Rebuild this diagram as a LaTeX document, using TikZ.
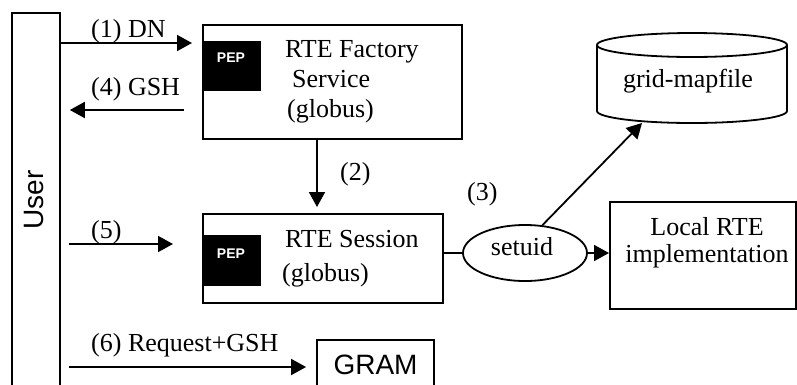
\documentclass[tikz,border=0pt]{standalone}
\usepackage{fontspec}
\setmainfont{Liberation Serif}
\newfontfamily\arialfont{Liberation Sans}
\usetikzlibrary{arrows.meta,shapes.geometric}

\begin{document}
\begin{tikzpicture}[x=1pt,y=-1pt,
  box/.style={draw,line width=1.8pt,rectangle,inner sep=0pt},
  pepbox/.style={fill=black,draw=none,inner sep=0pt,minimum width=59pt},
  peplabel/.style={text=white,font=\arialfont\bfseries\fontsize{14}{16}\selectfont,inner sep=0pt},
  txt/.style={font=\fontsize{26}{30}\selectfont,inner sep=0pt,anchor=base west},
  ctxt/.style={font=\fontsize{26}{30}\selectfont,inner sep=0pt,anchor=base},
  sanslbl/.style={font=\arialfont\fontsize{28}{30}\selectfont,inner sep=0pt},
  link/.style={line width=1.8pt},
  arr/.style={line width=1.8pt,-{Triangle[length=15pt,width=16pt]}}]

\useasboundingbox (0,0) rectangle (797,384);
\clip (0,0) rectangle (797,384);

% user column (runs off the bottom edge)
\node[box,minimum width=48pt,minimum height=380pt,anchor=north west] (user) at (11,12) {};
\node[sanslbl,rotate=90] (userlbl) at (34,200) {User};

% RTE Factory Service
\node[box,minimum width=259pt,minimum height=114pt,anchor=north west] (factory) at (202,24) {};
\node[pepbox,minimum height=50pt,anchor=north west] (pepA) at (202,41) {};
\node[peplabel] (pepAlbl) at (231,58) {PEP};
\node[txt] (facA) at (285,57) {RTE Factory};
\node[txt] (facB) at (292,87) {Service};
\node[txt] (facC) at (287,117) {(globus)};

% RTE Session
\node[box,minimum width=240pt,minimum height=89pt,anchor=north west] (session) at (202,213) {};
\node[pepbox,minimum height=51pt,anchor=north west] (pepB) at (202,235) {};
\node[peplabel] (pepBlbl) at (231,254) {PEP};
\node[txt] (sesA) at (285,247) {RTE Session};
\node[txt] (sesB) at (282,281) {(globus)};

% GRAM
\node[box,sanslbl,minimum width=117pt,minimum height=50pt] (gram) at (375.5,365) {GRAM};

% setuid
\node[draw,ellipse,line width=1.8pt,minimum width=124pt,minimum height=56pt,inner sep=0pt] (setuid) at (525,253) {};
\node[ctxt] (setuidlbl) at (522,255) {setuid};

% Local RTE implementation
\node[box,minimum width=186pt,minimum height=107pt,anchor=north west] (local) at (609,201) {};
\node[ctxt] (locA) at (707,235) {Local RTE};
\node[ctxt] (locB) at (707,262) {implementation};

% grid-mapfile store
\draw[link] (692,45) ellipse [x radius=95, y radius=12];
\draw[link] (597,45) -- (597,111) arc[start angle=180, end angle=0, x radius=95, y radius=12] -- (787,45);
\node[ctxt] (mapfile) at (688,87) {grid-mapfile};
\coordinate (mapfoot) at (642,123);

% connectors
\draw[arr,shorten >=10pt] (user.east |- 0,43) -- (factory.west |- 0,43);
\draw[arr,shorten <=18pt,shorten >=9pt] (factory.west |- 0,110) -- (user.east |- 0,110);
\draw[arr,shorten >=6pt] (factory.south -| 317,0) -- (session.north -| 317,0);
\draw[arr,shorten <=8pt,shorten >=29pt] (user.east |- 0,244) -- (session.west |- 0,244);
\draw[arr,shorten <=8pt,shorten >=10pt] (user.east |- 0,367) -- (gram.west |- 0,367);
\draw[link] (session.east |- setuid.west) -- (setuid.west);
\draw[arr] (setuid.east) -- (local.west |- setuid.east);
\draw[arr] (setuid.58) -- (mapfoot);

% connector labels
\node[txt] (l1) at (91,37.5) {(1) DN};
\node[txt] (l4) at (91,95) {(4) GSH};
\node[txt] (l2) at (340,180) {(2)};
\node[txt] (l3) at (467,200) {(3)};
\node[txt] (l5) at (91,238) {(5)};
\node[txt] (l6) at (91,351) {(6) Request+GSH};
\end{tikzpicture}
\end{document}
